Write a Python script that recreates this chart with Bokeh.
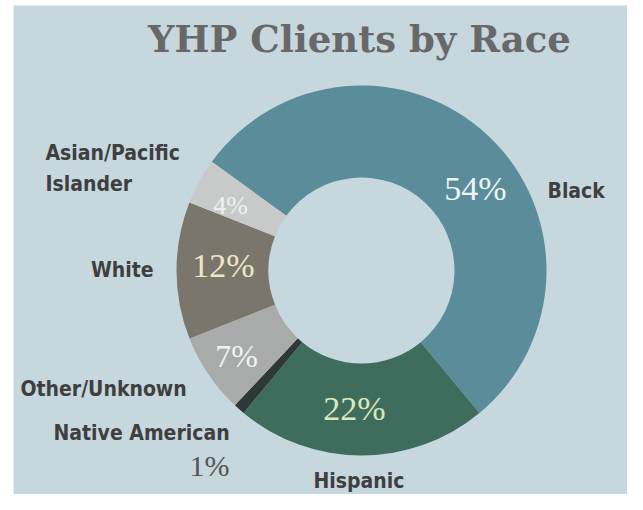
import math
from bokeh.plotting import figure
from bokeh.models import ColumnDataSource, Range1d
from bokeh.core.properties import value
from bokeh.embed import file_html
from bokeh.resources import INLINE

# ---- data ----
categories = ["Black", "Hispanic", "Native American", "Other/Unknown", "White", "Asian/Pacific Islander"]
percents = [54, 22, 1, 7, 12, 4]
display_names = ["Black", "Hispanic", "Native American", "Other/Unknown", "White", "Asian/Pacific\nIslander"]
title_text = "YHP Clients by Race"

# ---- style ----
BG = "#c6d7de"
wedge_colors = ["#5b8c9a", "#3e6d5d", "#2e3836", "#a9abaa", "#7b766c", "#c8cac9"]
pct_colors = ["#eef3f4", "#d9e8bd", "#555555", "#f2f2f2", "#efe6c6", "#f0f0f0"]
pct_sizes = ["34px", "34px", "30px", "32px", "34px", "26px"]

W, H = 627, 494
LEFT, TOP = 13, 5
def px(x):  # image x -> data x
    return x
def py(y):  # image y -> data y
    return H - y

# layout positions (image pixels)
cx, cy = px(361), py(270)
r_out, r_in = 185, 93
start_deg = 144.0

pct_pos = [(475, 188), (354, 408), (209, 465), (236, 355), (223, 265), (230, 205)]
name_pos = [(547, 190), (313, 480), (53, 432), (20, 388), (153, 269), (45, 168)]
name_align = ["left", "left", "left", "left", "right", "left"]

# wedge angles, clockwise from start
starts, ends = [], []
acc = 0.0
total = float(sum(percents))
for v in percents:
    a0 = start_deg - acc / total * 360.0
    a1 = a0 - v / total * 360.0
    starts.append(math.radians(a1))
    ends.append(math.radians(a0))
    acc += v

src = ColumnDataSource(dict(cat=categories, pct=percents, start=starts, end=ends, color=wedge_colors))

p = figure(width=W, height=H, x_range=Range1d(LEFT, W), y_range=Range1d(0, H - TOP),
           output_backend="svg", toolbar_location=None,
           min_border_left=LEFT, min_border_top=TOP, min_border_right=0, min_border_bottom=0)
p.axis.visible = False
p.grid.visible = False
p.outline_line_color = None
p.background_fill_color = BG
p.border_fill_color = "white"

p.annular_wedge(x=cx, y=cy, inner_radius=r_in, outer_radius=r_out,
                start_angle="start", end_angle="end", direction="anticlock",
                fill_color="color", line_color=None, source=src)

# percent labels
psrc = ColumnDataSource(dict(
    x=[px(a) for a, b in pct_pos], y=[py(b) for a, b in pct_pos],
    t=[f"{v}%" for v in percents], c=pct_colors, s=pct_sizes))
p.text(x="x", y="y", text="t", text_color="c", text_font_size="s",
       text_font=value("Liberation Serif"), text_align="center",
       text_baseline="middle", source=psrc)

# category labels
nsrc = ColumnDataSource(dict(
    x=[px(a) for a, b in name_pos], y=[py(b) for a, b in name_pos],
    t=display_names, al=name_align))
p.text(x="x", y="y", text="t", text_color="#3f3f3f", text_font_size="21px",
       text_font=value("DejaVu Sans Condensed"), text_font_style="bold",
       text_align="al", text_baseline="middle", text_line_height=1.3, source=nsrc)

# title
p.text(x=[px(359)], y=[py(38)], text=[title_text], text_color="#686868",
       text_font_size="37px", text_font=value("DejaVu Serif"), text_font_style="bold",
       text_align="center", text_baseline="middle")

open("out.html", "w").write(file_html(p, INLINE))
